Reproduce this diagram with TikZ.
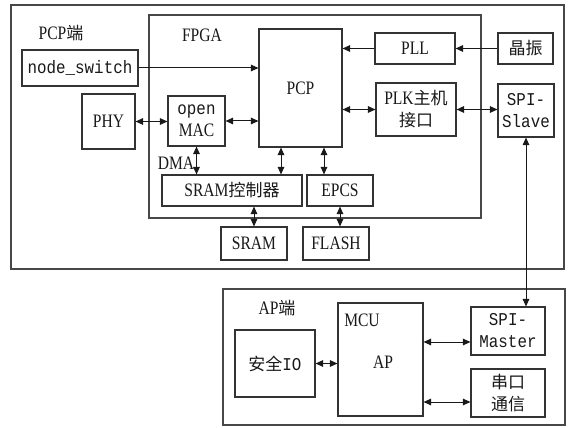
\documentclass[tikz,border=0pt]{standalone}
\usepackage{fontspec}
\setmainfont{Liberation Serif}[FakeStretch=0.82]
\setmonofont{Liberation Mono}[FakeStretch=0.88]
\newfontfamily\cjkfont{Noto Sans CJK SC}
\newcommand\zh[1]{{\cjkfont\fontsize{17}{22}\selectfont #1}}
\usetikzlibrary{arrows.meta}
\begin{document}
\begin{tikzpicture}[x=1pt,y=-1pt,
  box/.style={draw=black!80, line width=1.1pt, rectangle, inner sep=0pt, align=center,
    font=\fontsize{19}{22}\selectfont, text=black!90},
  mono/.style={font=\ttfamily\fontsize{18}{22}\selectfont},
  frame/.style={draw=black!72, line width=1.1pt},
  lbl/.style={inner sep=0pt, font=\fontsize{19}{20}\selectfont, text=black!90},
  arr/.style={line width=1pt, draw=black!90, -{Triangle[length=7.5pt,width=6.5pt]}},
  darr/.style={line width=1pt, draw=black!90, {Triangle[length=7.5pt,width=6.5pt]}-{Triangle[length=7.5pt,width=6.5pt]}},
]
\useasboundingbox (0,0) rectangle (571,428);
\fill[white] (0,0) rectangle (571,428);

% frames
\draw[frame] (11,5) rectangle (564,269);
\draw[frame] (149,15) rectangle (481,218);
\draw[frame] (223,289) rectangle (565,425);

% labels
\node[lbl] (lpcp) at (61,33) {PCP\zh{端}};
\node[lbl] (lfpga) at (202,35) {FPGA};
\node[lbl] (ldma) at (176,163) {DMA};
\node[lbl] (lap) at (277,308) {AP\zh{端}};

% PCP side boxes
\node[box, mono, minimum width=116pt, minimum height=36pt] (ns) at (80,68) {node\_switch};
\node[box, minimum width=83pt, minimum height=118pt] (pcp) at (300.5,88) {PCP};
\node[box, minimum width=53pt, minimum height=55pt] (phy) at (108.5,121.5) {PHY};
\node[box, minimum width=57pt, minimum height=50pt] (mac) at (196.5,121) {{\ttfamily\fontsize{18}{22}\selectfont open}\\MAC};
\node[box, minimum width=140pt, minimum height=31pt] (sramc) at (232,190.5) {SRAM\zh{控制器}};
\node[box, minimum width=66pt, minimum height=31pt] (epcs) at (340,190.5) {EPCS};
\node[box, minimum width=80pt, minimum height=31pt] (pll) at (415,48.5) {PLL};
\node[box, minimum width=55pt, minimum height=31pt] (osc) at (525.5,48.5) {\zh{晶振}};
\node[box, minimum width=80pt, minimum height=53pt] (plk) at (416,109.5) {PLK\zh{主机}\\\zh{接口}};
\node[box, mono, minimum width=56pt, minimum height=53pt] (spis) at (526,110.5) {SPI-\\Slave};
\node[box, minimum width=66pt, minimum height=33pt] (sram) at (254,243.5) {SRAM};
\node[box, minimum width=66pt, minimum height=33pt] (flash) at (336,243.5) {FLASH};

% AP side boxes
\node[box, minimum width=80pt, minimum height=67pt] (io) at (275,363.5) {\zh{安全}{\ttfamily\fontsize{18}{22}\selectfont IO}};
\node[box, minimum width=85pt, minimum height=113pt] (mcu) at (380.5,359.5) {};
\node[lbl] (lmcu) at (362,320) {MCU};
\node[lbl] (lapc) at (383,362) {AP};
\node[box, mono, minimum width=74pt, minimum height=48pt] (spim) at (508,331) {SPI-\\Master};
\node[box, minimum width=74pt, minimum height=48pt] (ser) at (508,393) {\zh{串口}\\\zh{通信}};

% connectors
\draw[arr] (ns.east) -- (ns.east -| pcp.west);
\draw[arr] (osc.west) -- (pll.east);
\draw[arr] (pll.west) -- (pll.west -| pcp.east);
\draw[darr] (plk.west -| pcp.east) -- (plk.west);
\draw[darr] (plk.east) -- (plk.east -| spis.west);
\draw[darr] (phy.east) -- (phy.east -| mac.west);
\draw[darr] (mac.east) -- (mac.east -| pcp.west);
\draw[darr] (mac.south) -- (mac.south |- sramc.north);
\draw[darr] ([xshift=-19.5pt]pcp.south) coordinate (p1) -- (p1 |- sramc.north);
\draw[darr] ([xshift=23.5pt]pcp.south) coordinate (p2) -- (p2 |- epcs.north);
\draw[darr] (sram.north |- sramc.south) -- (sram.north);
\draw[darr] (epcs.south) -- (epcs.south |- flash.north);
\draw[darr] (spis.south) -- (spis.south |- spim.north);
\draw[darr] (io.east) -- (io.east -| mcu.west);
\draw[darr] (mcu.east |- 0,342) -- (spim.west |- 0,342);
\draw[darr] (mcu.east |- 0,402) -- (ser.west |- 0,402);
\end{tikzpicture}
\end{document}
